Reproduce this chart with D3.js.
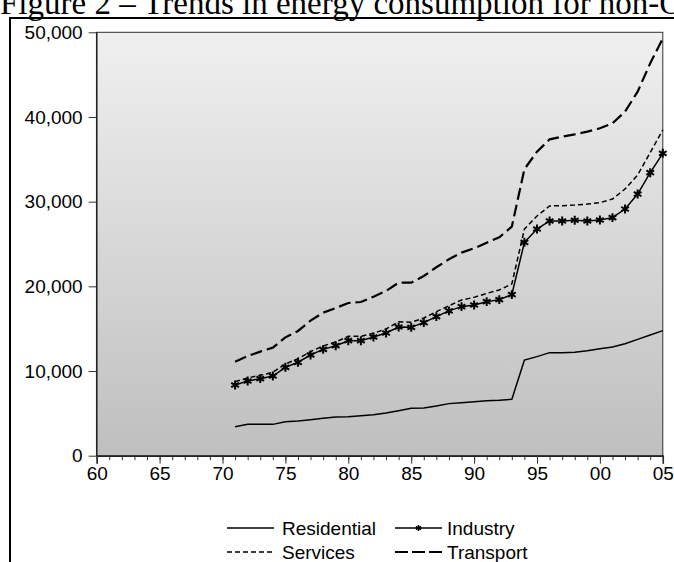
<!DOCTYPE html>
<html>
<head>
<meta charset="utf-8">
<script src="https://cdn.jsdelivr.net/npm/d3@7"></script>
<style>
  body { margin: 0; background: #fff; }
  svg { display: block; }
</style>
</head>
<body>
<svg width="674" height="562"></svg>
<script>
  // Years 1971-2005
  const years = d3.range(1971, 2006);

  const residential = [3430, 3700, 3700, 3700, 4020, 4100, 4250, 4410, 4570, 4610,
    4730, 4850, 5040, 5320, 5590, 5630, 5870, 6150, 6260, 6380,
    6500, 6540, 6660, 11300, 11700, 12170, 12170, 12210, 12400, 12640,
    12840, 13230, 13740, 14250, 14770];

  const industry = [8350, 8820, 9100, 9410, 10440, 11030, 11890, 12560, 12990, 13580,
    13580, 14020, 14490, 15200, 15160, 15710, 16420, 17100, 17600, 17800,
    18190, 18430, 19020, 25200, 26770, 27720, 27720, 27800, 27720, 27830,
    28110, 29130, 30900, 33420, 35710];

  const services = [8740, 9180, 9490, 9850, 10830, 11460, 12290, 12960, 13430, 14100,
    14100, 14450, 14960, 15830, 15750, 16260, 17010, 17700, 18390, 18700,
    19170, 19570, 20280, 26770, 28310, 29490, 29530, 29600, 29720, 29880,
    30310, 31500, 33150, 35800, 38470];

  const transport = [11100, 11770, 12290, 12760, 13980, 14730, 15950, 16890, 17440, 18030,
    18150, 18780, 19450, 20430, 20430, 21220, 22250, 23200, 23980, 24490,
    25150, 25790, 27050, 33840, 35900, 37360, 37680, 37950, 38270, 38660,
    39250, 40630, 42990, 46340, 49290];

  const yTicks = [0, 10000, 20000, 30000, 40000, 50000];
  const xMajorTicks = d3.range(1960, 2006, 5);
  const xMinorTicks = d3.range(1960, 2006, 1);

  const titleText = 'Figure 2 \u2013 Trends in energy consumption for non-OECD countries';

  const svg = d3.select('svg');
  const margin = { left: 96.7, right: 674 - 662.8, top: 32.3, bottom: 562 - 455.7 };
  const width = 674 - margin.left - margin.right;
  const height = 562 - margin.top - margin.bottom;

  const font = '"Liberation Sans", Arial, sans-serif';

  // title (cut at the top of the page)
  svg.append('text')
    .attr('x', 0)
    .attr('y', 14)
    .attr('font-family', '"Liberation Serif", "Times New Roman", serif')
    .attr('font-size', 33)
    .attr('fill', '#000')
    .text(titleText);

  // outer frame
  svg.append('rect')
    .attr('x', 10)
    .attr('y', 18)
    .attr('width', 800)
    .attr('height', 700)
    .attr('fill', 'none')
    .attr('stroke', '#000')
    .attr('stroke-width', 2);

  // background gradient
  const defs = svg.append('defs');
  const grad = defs.append('linearGradient')
    .attr('id', 'bg')
    .attr('x1', 0).attr('y1', 0).attr('x2', 0).attr('y2', 1);
  grad.append('stop').attr('offset', '0%').attr('stop-color', '#f0f0f0');
  grad.append('stop').attr('offset', '100%').attr('stop-color', '#bfbfbf');

  const g = svg.append('g').attr('transform', `translate(${margin.left},${margin.top})`);

  const x = d3.scaleLinear().domain([1960, 2005]).range([0, width]);
  const y = d3.scaleLinear().domain([0, 50000]).range([height, 0]);

  g.append('rect')
    .attr('width', width)
    .attr('height', height)
    .attr('fill', 'url(#bg)')
    .attr('stroke', '#333')
    .attr('stroke-width', 1);

  // y axis
  const yAxis = g.append('g')
    .call(d3.axisLeft(y).tickValues(yTicks).tickFormat(d3.format(',')).tickSize(8).tickPadding(6));
  yAxis.select('.domain').remove();
  yAxis.selectAll('text').attr('font-family', font).attr('font-size', 19).attr('fill', '#000');
  yAxis.selectAll('line').attr('stroke', '#333');

  // x axis, minor ticks then major ticks
  const xMinor = g.append('g')
    .attr('transform', `translate(0,${height})`)
    .call(d3.axisBottom(x).tickValues(xMinorTicks).tickFormat('').tickSize(4.5));
  xMinor.select('.domain').remove();
  xMinor.selectAll('line').attr('stroke', '#333');

  const xAxis = g.append('g')
    .attr('transform', `translate(0,${height})`)
    .call(d3.axisBottom(x).tickValues(xMajorTicks)
      .tickFormat(d => String(d % 100).padStart(2, '0')).tickSize(8).tickPadding(3));
  xAxis.select('.domain').attr('stroke', '#222').attr('stroke-width', 1.5);
  xAxis.selectAll('text').attr('font-family', font).attr('font-size', 19).attr('fill', '#000');
  xAxis.selectAll('line').attr('stroke', '#333');

  // left axis line
  g.append('line')
    .attr('x1', 0).attr('x2', 0).attr('y1', 0).attr('y2', height)
    .attr('stroke', '#222').attr('stroke-width', 1.5);

  const series = [
    { name: 'Residential', values: residential, dash: null, width: 1.5 },
    { name: 'Industry', values: industry, dash: null, width: 1.5, marker: true },
    { name: 'Services', values: services, dash: '5,3', width: 1.5 },
    { name: 'Transport', values: transport, dash: '12,5', width: 2.2 }
  ];

  const line = d3.line()
    .x((d, i) => x(years[i]))
    .y(d => y(d));

  const star = d3.symbol().type(d3.symbolAsterisk).size(55);

  series.forEach(s => {
    g.append('path')
      .datum(s.values)
      .attr('d', line)
      .attr('fill', 'none')
      .attr('stroke', '#000')
      .attr('stroke-width', s.width)
      .attr('stroke-dasharray', s.dash);

    if (s.marker) {
      g.selectAll('.mk')
        .data(s.values)
        .enter().append('path')
        .attr('class', 'mk')
        .attr('transform', (d, i) => `translate(${x(years[i])},${y(d)})`)
        .attr('d', star)
        .attr('fill', 'none')
        .attr('stroke', '#000')
        .attr('stroke-width', 2);
    }
  });

  // legend
  const legendPos = [
    { x: 227, y: 528 },
    { x: 395, y: 528 },
    { x: 227, y: 552 },
    { x: 395, y: 552 }
  ];

  series.forEach((s, i) => {
    const p = legendPos[i];
    const lg = svg.append('g').attr('transform', `translate(${p.x},${p.y})`);
    lg.append('line')
      .attr('x1', 0).attr('x2', 47).attr('y1', 0).attr('y2', 0)
      .attr('stroke', '#000')
      .attr('stroke-width', s.width)
      .attr('stroke-dasharray', s.name === 'Transport' ? '13,4' : s.dash);
    if (s.marker) {
      lg.append('path')
        .attr('transform', 'translate(23.5,0)')
        .attr('d', d3.symbol().type(d3.symbolAsterisk).size(25))
        .attr('stroke', '#000')
        .attr('stroke-width', 1.5);
    }
    lg.append('text')
      .attr('x', s.name === 'Transport' || s.name === 'Industry' ? 52 : 55)
      .attr('dy', '0.35em')
      .attr('font-family', font)
      .attr('font-size', 19)
      .attr('fill', '#000')
      .text(s.name);
  });
</script>
</body>
</html>
